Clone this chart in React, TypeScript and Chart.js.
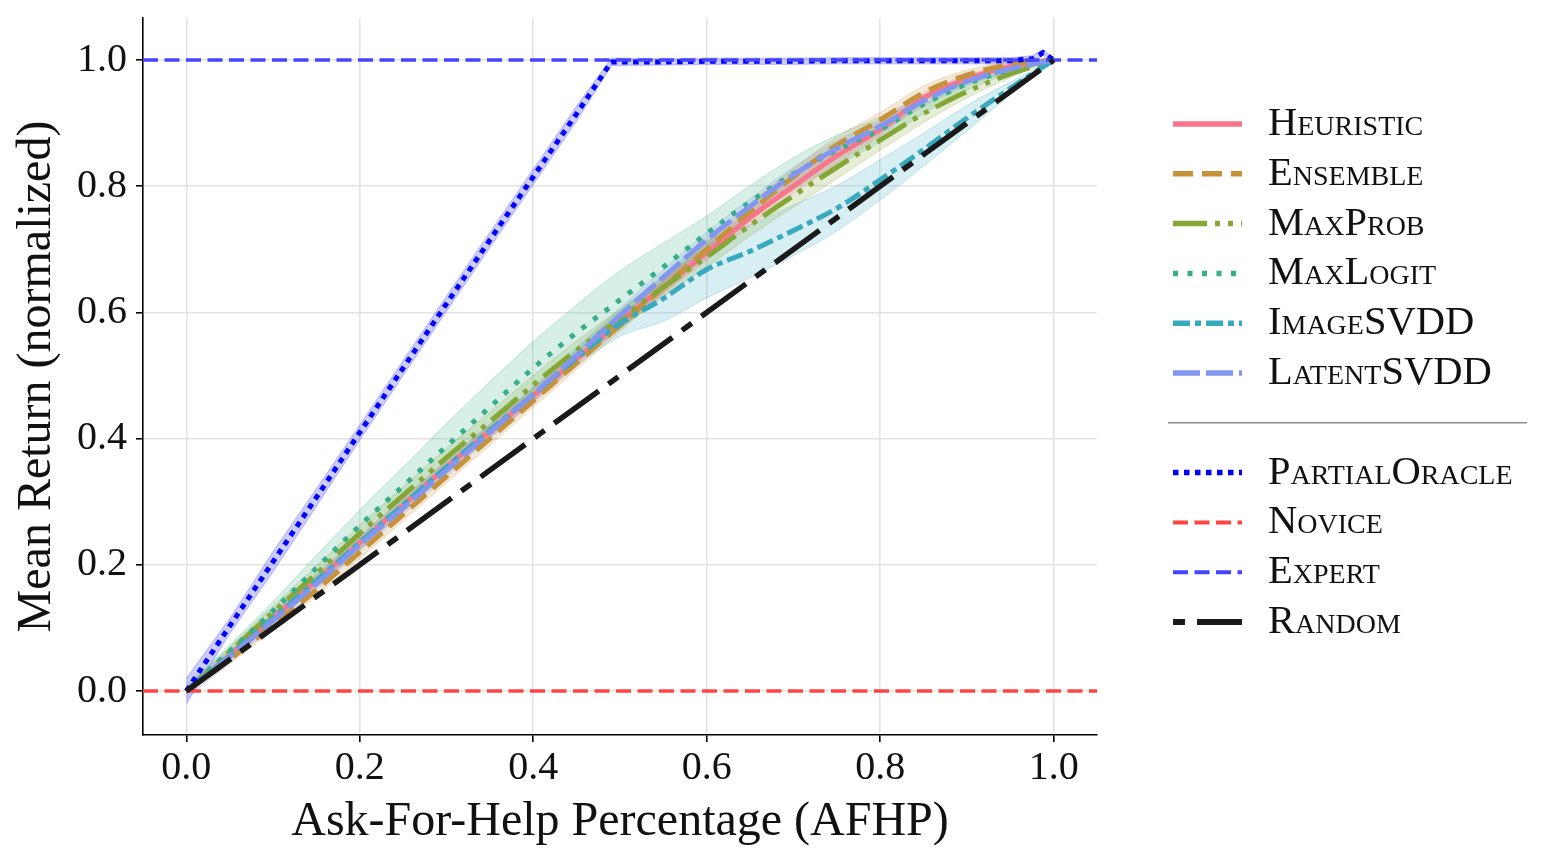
import React, { useEffect, useRef } from "react";
import { Chart, registerables } from "chart.js";

Chart.register(...registerables);

// ---------- data ----------
const afhp = [0, 0.05, 0.1, 0.15, 0.2, 0.25, 0.3, 0.35, 0.4, 0.45, 0.5, 0.55, 0.6, 0.65, 0.7, 0.75, 0.8, 0.85, 0.9, 0.95, 1.0];

const heuristicMean = [0, 0.056, 0.115, 0.175, 0.235, 0.295, 0.355, 0.412, 0.468, 0.526, 0.585, 0.64, 0.695, 0.75, 0.8, 0.848, 0.89, 0.94, 0.97, 0.99, 1.0];
const heuristicSpread = [0.004, 0.006, 0.008, 0.009, 0.01, 0.01, 0.01, 0.01, 0.01, 0.01, 0.01, 0.01, 0.012, 0.012, 0.012, 0.012, 0.01, 0.008, 0.006, 0.004, 0];

const ensembleMean = [0, 0.05, 0.105, 0.16, 0.22, 0.28, 0.34, 0.4, 0.46, 0.52, 0.58, 0.64, 0.7, 0.76, 0.815, 0.865, 0.905, 0.948, 0.976, 0.993, 1.0];
const ensembleSpread = [0.004, 0.007, 0.008, 0.009, 0.01, 0.01, 0.01, 0.01, 0.01, 0.01, 0.01, 0.01, 0.011, 0.012, 0.013, 0.013, 0.012, 0.011, 0.008, 0.005, 0];

const maxProbMean = [0, 0.062, 0.125, 0.186, 0.25, 0.31, 0.37, 0.427, 0.485, 0.54, 0.59, 0.64, 0.688, 0.738, 0.785, 0.83, 0.873, 0.915, 0.95, 0.978, 1.0];
const maxProbSpread = [0.004, 0.008, 0.01, 0.012, 0.013, 0.014, 0.015, 0.015, 0.015, 0.015, 0.015, 0.015, 0.016, 0.017, 0.018, 0.018, 0.016, 0.014, 0.01, 0.006, 0];

const maxLogitMean = [0, 0.063, 0.127, 0.195, 0.262, 0.325, 0.388, 0.45, 0.512, 0.568, 0.62, 0.672, 0.725, 0.775, 0.82, 0.857, 0.89, 0.93, 0.962, 0.985, 1.0];
const maxLogitSpread = [0.005, 0.01, 0.015, 0.02, 0.025, 0.03, 0.036, 0.04, 0.042, 0.044, 0.046, 0.038, 0.028, 0.026, 0.025, 0.024, 0.02, 0.015, 0.01, 0.006, 0];

const imageSvddMean = [0, 0.056, 0.115, 0.175, 0.235, 0.295, 0.355, 0.413, 0.47, 0.528, 0.582, 0.622, 0.668, 0.697, 0.73, 0.765, 0.81, 0.858, 0.908, 0.955, 1.0];
const imageSvddSpread = [0.004, 0.006, 0.008, 0.01, 0.01, 0.01, 0.01, 0.01, 0.01, 0.012, 0.02, 0.036, 0.045, 0.042, 0.04, 0.036, 0.032, 0.026, 0.02, 0.01, 0];

const latentSvddMean = [0, 0.055, 0.112, 0.17, 0.232, 0.29, 0.35, 0.41, 0.47, 0.532, 0.595, 0.656, 0.715, 0.768, 0.818, 0.86, 0.895, 0.935, 0.966, 0.986, 1.0];
const latentSvddSpread = [0.012, 0.01, 0.01, 0.01, 0.01, 0.01, 0.01, 0.01, 0.012, 0.012, 0.012, 0.012, 0.012, 0.012, 0.012, 0.012, 0.01, 0.008, 0.006, 0.004, 0];

const oracleAfhp = [0, 0.05, 0.1, 0.15, 0.2, 0.25, 0.3, 0.35, 0.4, 0.45, 0.49, 0.55, 0.6, 0.65, 0.7, 0.75, 0.8, 0.85, 0.9, 0.95, 0.976, 0.988, 1.0];
const oracleMean = [0, 0.103, 0.205, 0.307, 0.41, 0.512, 0.614, 0.715, 0.815, 0.915, 0.997, 0.997, 0.998, 0.998, 0.998, 0.999, 0.999, 0.999, 0.999, 0.999, 1.002, 1.012, 1.0];
const oracleSpread = [0.02, 0.012, 0.016, 0.014, 0.012, 0.012, 0.012, 0.012, 0.012, 0.012, 0.006, 0.005, 0.005, 0.005, 0.005, 0.005, 0.005, 0.005, 0.005, 0.005, 0.005, 0.005, 0];

const randomAfhp = [0, 1];
const randomMean = [0, 1];

const noviceLevel = [0];
const expertLevel = [1];

const xTickValues = [0, 0.2, 0.4, 0.6, 0.8, 1.0];
const yTickValues = [0, 0.2, 0.4, 0.6, 0.8, 1.0];

const methodLabels = ["Heuristic", "Ensemble", "MaxProb", "MaxLogit", "ImageSVDD", "LatentSVDD"];
const baselineLabels = ["PartialOracle", "Novice", "Expert", "Random"];

const xAxisTitle = "Ask-For-Help Percentage (AFHP)";
const yAxisTitle = "Mean Return (normalized)";

// ---------- styling ----------
const X_MIN = -0.05;
const X_MAX = 1.05;
const Y_MIN = -0.0697;
const Y_MAX = 1.0666;
const FONT = "'Liberation Serif', 'DejaVu Serif', serif";

type Style = { rgb: string; width: number; dash: number[]; legendOffset?: number };

const STYLE: Record<string, Style> = {
  Heuristic: { rgb: "247,118,140", width: 5, dash: [] },
  Ensemble: { rgb: "198,146,58", width: 5, dash: [20, 9] },
  MaxProb: { rgb: "132,167,54", width: 5, dash: [34, 8, 5, 8, 5, 8] },
  MaxLogit: { rgb: "54,174,137", width: 5, dash: [5, 9.5] },
  ImageSVDD: { rgb: "56,169,191", width: 5, dash: [17, 5, 6, 5] },
  LatentSVDD: { rgb: "130,149,239", width: 5, dash: [27, 6] },
  PartialOracle: { rgb: "0,0,255", width: 5, dash: [5.5, 5.5] },
  Novice: { rgb: "255,68,68", width: 3.5, dash: [15, 6.5] },
  Expert: { rgb: "68,68,255", width: 3.5, dash: [15, 6.5] },
  Random: { rgb: "26,26,26", width: 5.5, dash: [55, 12, 12, 12], legendOffset: 67 },
};

const pts = (xs: number[], ys: number[]) => xs.map((x, i) => ({ x, y: ys[i] }));

function buildDatasets() {
  const ds: any[] = [];
  const methods = [
    { name: "Heuristic", mean: heuristicMean, spread: heuristicSpread },
    { name: "Ensemble", mean: ensembleMean, spread: ensembleSpread },
    { name: "MaxProb", mean: maxProbMean, spread: maxProbSpread },
    { name: "MaxLogit", mean: maxLogitMean, spread: maxLogitSpread },
    { name: "ImageSVDD", mean: imageSvddMean, spread: imageSvddSpread },
    { name: "LatentSVDD", mean: latentSvddMean, spread: latentSvddSpread },
  ];
  const addBand = (xs: number[], mean: number[], spread: number[], rgb: string, smooth: boolean) => {
    const common = {
      pointRadius: 0,
      borderWidth: 1.2,
      borderColor: `rgba(${rgb},0.18)`,
      order: 100,
      cubicInterpolationMode: smooth ? "monotone" : "default",
    };
    ds.push({ ...common, label: "_band", data: pts(xs, mean.map((m, i) => m + spread[i])), fill: false });
    ds.push({
      ...common,
      label: "_band",
      data: pts(xs, mean.map((m, i) => m - spread[i])),
      fill: "-1",
      backgroundColor: `rgba(${rgb},0.2)`,
    });
  };
  methods.forEach((m) => addBand(afhp, m.mean, m.spread, STYLE[m.name].rgb, true));
  addBand(oracleAfhp, oracleMean, oracleSpread, STYLE.PartialOracle.rgb, false);

  let order = 40;
  const addLine = (name: string, data: any[], smooth: boolean) => {
    const s = STYLE[name];
    ds.push({
      label: name,
      data,
      borderColor: `rgb(${s.rgb})`,
      borderWidth: s.width,
      borderDash: s.dash,
      borderCapStyle: "butt",
      borderJoinStyle: "round",
      pointRadius: 0,
      fill: false,
      order: order--,
      cubicInterpolationMode: smooth ? "monotone" : "default",
    });
  };
  methods.forEach((m) => addLine(m.name, pts(afhp, m.mean), true));
  addLine("PartialOracle", pts(oracleAfhp, oracleMean), false);
  addLine("Novice", [{ x: X_MIN, y: noviceLevel[0] }, { x: X_MAX, y: noviceLevel[0] }], false);
  addLine("Expert", [{ x: X_MIN, y: expertLevel[0] }, { x: X_MAX, y: expertLevel[0] }], false);
  addLine("Random", pts(randomAfhp, randomMean), false);
  return ds;
}

// custom legend with separator
const legendPlugin = {
  id: "groupedLegend",
  afterDraw(chart: any) {
    const ctx: CanvasRenderingContext2D = chart.ctx;
    const lineX0 = 1165;
    const lineX1 = 1234;
    const textX = 1260;
    const top = 116;
    const step = 49.8;
    ctx.save();
    const drawRow = (label: string, slot: number) => {
      const y = top + slot * step;
      const s = STYLE[label];
      ctx.beginPath();
      ctx.setLineDash(s.dash);
      ctx.lineDashOffset = s.legendOffset || 0;
      ctx.lineCap = "butt";
      ctx.strokeStyle = `rgb(${s.rgb})`;
      ctx.lineWidth = s.width + 0.5;
      ctx.moveTo(lineX0, y);
      ctx.lineTo(lineX1, y);
      ctx.stroke();
      ctx.setLineDash([]);
      ctx.font = `small-caps 40.5px ${FONT}`;
      try {
        (ctx as any).fontVariantCaps = "small-caps";
      } catch (e) {}
      ctx.fillStyle = "#111";
      ctx.textAlign = "left";
      ctx.textBaseline = "alphabetic";
      ctx.fillText(label, textX, y + 11);
    };
    methodLabels.forEach((l, i) => drawRow(l, i));
    const sepY = top + methodLabels.length * step;
    ctx.beginPath();
    ctx.strokeStyle = "#8c8c8c";
    ctx.lineWidth = 1.5;
    ctx.moveTo(1160, sepY);
    ctx.lineTo(1519, sepY);
    ctx.stroke();
    baselineLabels.forEach((l, i) => drawRow(l, methodLabels.length + 1 + i));
    ctx.restore();
  },
};

export default function App() {
  const canvasRef = useRef<HTMLCanvasElement | null>(null);

  useEffect(() => {
    if (!canvasRef.current) return;
    const chart = new Chart(canvasRef.current, {
      type: "line",
      data: { datasets: buildDatasets() },
      options: {
        animation: false,
        responsive: true,
        maintainAspectRatio: false,
        layout: { padding: { left: 0, top: 10, right: 449, bottom: 0 } },
        plugins: { legend: { display: false }, tooltip: { enabled: false } },
        scales: {
          x: {
            type: "linear",
            min: X_MIN,
            max: X_MAX,
            afterBuildTicks: (scale: any) => {
              scale.ticks = xTickValues.map((v) => ({ value: v }));
            },
            afterFit: (scale: any) => {
              scale.height = 125;
              scale.paddingLeft = 0;
              scale.paddingRight = 0;
            },
            grid: { color: "#e3e3e3", lineWidth: 1.6, tickColor: "#000", tickLength: 7, tickWidth: 1.6 },
            border: { display: true, color: "#000", width: 1.6 },
            ticks: {
              font: { family: FONT, size: 40 },
              color: "#111",
              padding: 2,
              maxRotation: 0,
              callback: (v: any) => Number(v).toFixed(1),
            },
            title: {
              display: true,
              text: xAxisTitle,
              font: { family: FONT, size: 48 },
              color: "#111",
              padding: { top: 0, bottom: 9 },
            },
          },
          y: {
            type: "linear",
            min: Y_MIN,
            max: Y_MAX,
            afterBuildTicks: (scale: any) => {
              scale.ticks = yTickValues.map((v) => ({ value: v }));
            },
            afterFit: (scale: any) => {
              scale.width = 135;
              scale.paddingTop = 0;
              scale.paddingBottom = 0;
            },
            grid: { color: "#e3e3e3", lineWidth: 1.6, tickColor: "#000", tickLength: 7, tickWidth: 1.6 },
            border: { display: true, color: "#000", width: 1.6 },
            ticks: {
              font: { family: FONT, size: 40 },
              color: "#111",
              padding: 9,
              callback: (v: any) => Number(v).toFixed(1),
            },
            title: {
              display: true,
              text: yAxisTitle,
              font: { family: FONT, size: 48 },
              color: "#111",
              padding: { top: 1, bottom: 0 },
            },
          },
        },
      } as any,
      plugins: [legendPlugin],
    });
    return () => chart.destroy();
  }, []);

  return (
    <div style={{ position: "relative", width: 1538, height: 852 }}>
      <canvas ref={canvasRef} />
    </div>
  );
}
